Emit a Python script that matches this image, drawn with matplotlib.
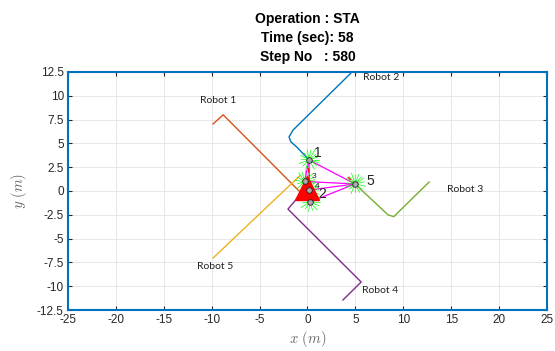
#Plots the robot trajectories and the current formation snapshot
import matplotlib.pyplot as plt
import numpy as np

plt.rcParams["mathtext.fontset"] = "cm"

#Trajectory of each robot (x and y in metres)
traj_x = {
    "Robot 1": [-9.86, -8.8, 0.26],
    "Robot 2": [4.65, -1.51, -1.93, -1.72, -1.1, 0.16],
    "Robot 3": [12.7, 9.0, 8.4, 4.96],
    "Robot 4": [3.7, 5.6, -2.04, -0.6],
    "Robot 5": [-9.86, -0.8],
}
traj_y = {
    "Robot 1": [7.04, 8.0, -1.15],
    "Robot 2": [12.5, 6.4, 5.67, 5.15, 4.6, 3.26],
    "Robot 3": [0.95, -2.7, -2.5, 0.74],
    "Robot 4": [-11.45, -9.56, -1.9, -0.2],
    "Robot 5": [-7.04, 1.6],
}
traj_color = {
    "Robot 1": "#D95319",
    "Robot 2": "#0072BD",
    "Robot 3": "#77AC30",
    "Robot 4": "#7E2F8E",
    "Robot 5": "#EDB120",
}

#Name label position for each robot
label_x = [-11.2, 5.8, 14.6, 5.7, -11.5]
label_y = [9.5, 11.9, 0.2, -10.4, -7.9]

#Current agent positions and their number labels
agent_x = [0.16, 0.26, -0.3, 0.2, 4.96]
agent_y = [3.26, -1.15, 1.0, 0.1, 0.74]
num_x = [0.68, 1.1, 0.4, 0.75, 6.1]
num_y = [4.0, -0.3, 1.5, 0.5, 1.05]
num_size = [10, 10, 6, 6, 10]

#Communication links between agents
links = [(0, 4), (0, 2), (2, 4), (3, 4), (1, 4), (0, 3), (1, 2)]

#Sensor rays (angle in degrees, length in m) drawn around every agent
ray_angle = [0, 20, 40, 60, 80, 100, 125, 150, 175, 200, 225, 250, 275, 300, 325, 345]
ray_len = [1.0, 1.1, 0.9, 1.2, 1.0, 1.1, 0.9, 1.0, 0.8, 1.1, 0.9, 1.0, 0.9, 1.1, 1.0, 1.1]

#Short heading segments (start and end)
head_x = [[4.2, 4.9], [0.1, 0.2]]
head_y = [[1.45, 0.85], [2.4, 1.4]]

#Target position
target_x = -0.1
target_y = 0.3

fig = plt.figure(figsize=(5.55, 3.51), dpi=100)
ax = fig.add_axes([0.1225, 0.1168, 0.8631, 0.6781])

for name in traj_x:
    ax.plot(traj_x[name], traj_y[name], color=traj_color[name], lw=1.0, zorder=3)

for i, name in enumerate(traj_x):
    ax.text(label_x[i], label_y[i], name, fontsize=7.5, family="Lato",
            ha="left", va="center", color="#222222", zorder=6)

for a, b in links:
    ax.plot([agent_x[a], agent_x[b]], [agent_y[a], agent_y[b]],
            color="#FF00FF", lw=0.9, zorder=4)

for hx, hy in zip(head_x, head_y):
    ax.plot(hx, hy, color="red", lw=0.9, ls="--", zorder=4)

for i in range(len(agent_x)):
    for ang, ln in zip(ray_angle, ray_len):
        t = np.radians(ang + 12 * i)
        ax.plot([agent_x[i], agent_x[i] + ln * np.cos(t)],
                [agent_y[i], agent_y[i] + ln * np.sin(t)],
                color="#00FF00", lw=0.5, zorder=4)

ax.plot(target_x, target_y, marker="^", color="red", markersize=17, zorder=5)

ax.plot(agent_x, agent_y, ls="none", marker="o", markersize=4,
        markerfacecolor="#aaaaaa", markeredgecolor="#222222", mew=0.6, zorder=6)

for i in range(len(agent_x)):
    ax.text(num_x[i], num_y[i], str(i + 1), fontsize=num_size[i],
            family="Liberation Sans", ha="left", va="center", color="#222222", zorder=7)

#Axes styling
ax.set_xlim(-25, 25)
ax.set_ylim(-12.5, 12.5)
ax.set_xticks(np.arange(-25, 26, 5))
ax.set_yticks(np.arange(-12.5, 12.6, 2.5))
ax.set_xticklabels([f"{v:g}" for v in np.arange(-25, 26, 5)])
ax.set_yticklabels([f"{v:g}" for v in np.arange(-12.5, 12.6, 2.5)])
ax.grid(True, color="#e3e3e3", lw=0.6)
ax.set_axisbelow(True)
ax.tick_params(direction="in", length=3, top=True, right=True, labelsize=8.5,
               colors="#262626", pad=3)
for lab in ax.get_xticklabels() + ax.get_yticklabels():
    lab.set_family("Liberation Sans")
for sp in ax.spines.values():
    sp.set_color("#0072BD")
    sp.set_linewidth(1.5)

ax.set_xlabel(r"$x\ (m)$", fontsize=10.5, color="#666666", labelpad=2)
ax.set_ylabel(r"$y\ (m)$", fontsize=10.5, color="#666666", labelpad=6)

ax.set_title("Operation : STA\nTime (sec): 58\nStep No   : 580", fontsize=10,
             fontweight="bold", family="Liberation Sans", linespacing=1.45, pad=8)

fig.savefig("out.png", dpi=100)
